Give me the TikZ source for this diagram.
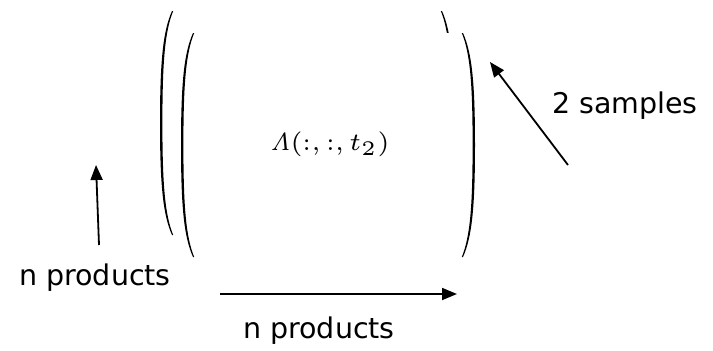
\documentclass[tikz,border=0pt]{standalone}
\usepackage[no-math]{fontspec}
\setmainfont{DejaVu Sans}
\DeclareMathSizes{6}{6}{5}{5}
\usetikzlibrary{arrows.meta}
\tikzset{
  lbl/.style={inner sep=0pt, font=\fontsize{28.5}{32}\selectfont},
  mat/.style={minimum width=294pt, minimum height=224pt, inner sep=0pt, draw=none},
  arr/.style={line width=1.8pt, -{Triangle[length=15pt,width=12pt]}},
  pics/lpar/.style={code={
    \fill (0,0) .. controls (-9,20) and (-12,50) .. (-12,#1/2)
      .. controls (-12,#1-50) and (-9,#1-20) .. (0,#1)
      -- (1.2,#1) .. controls (-7,#1-20) and (-9.6,#1-50) .. (-9.6,#1/2)
      .. controls (-9.6,50) and (-7,20) .. (1.2,0) -- cycle;
  }}
}
\begin{document}
\begin{tikzpicture}[x=1pt,y=-1pt]
\useasboundingbox (0,0) rectangle (713,351);
% back matrix
\node[mat] (bm) at (306,123) {};
\pic at (172,11) {lpar=224};
\pic[xscale=-1] at (442,11) {lpar=224};
% front matrix
\node[mat, fill=white] (fm) at (328,145) {};
\node[inner sep=0pt, scale=4.15, font=\fontsize{6}{7}\selectfont] (ft) at (330,144) {$\mathit{\Lambda}(:,:,t_2)$};
\pic at (193,33) {lpar=224};
\pic[xscale=-1] at (463,33) {lpar=224};
% labels
\node[lbl] (l1) at (95,278) {n products};
\node[lbl] (l2) at (319,331) {n products};
\node[lbl] (l3) at (625,106) {2 samples};
% arrows
\coordinate (v1) at (99,245);
\coordinate (v2) at (96,165);
\coordinate (h1) at (220,294);
\coordinate (h2) at (457,294);
\coordinate (d1) at (568,165);
\coordinate (d2) at (490,62);
\draw[arr] (v1) -- (v2);
\draw[arr] (h1) -- (h2);
\draw[arr] (d1) -- (d2);
\end{tikzpicture}
\end{document}
